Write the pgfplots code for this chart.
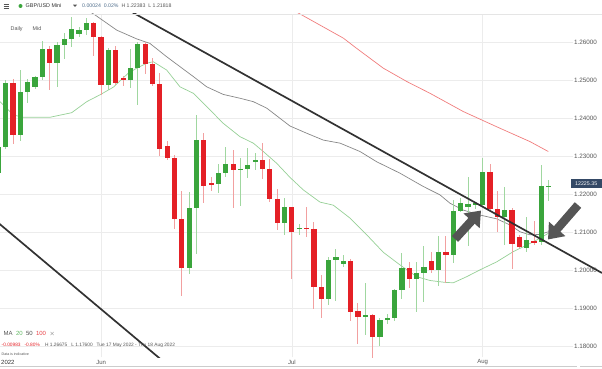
\documentclass[border=0pt]{standalone}
\usepackage{fontspec}
\setmainfont{Liberation Sans}
\usepackage{pgfplots}
\pgfplotsset{compat=1.18}
\usepackage{pgfplotstable}
\usetikzlibrary{arrows.meta}
\definecolor{upg}{RGB}{58,165,60}
\definecolor{dnr}{RGB}{228,32,38}
\definecolor{upw}{RGB}{160,215,160}
\definecolor{dnw}{RGB}{242,160,160}
\definecolor{maA}{RGB}{150,208,150}
\definecolor{maB}{RGB}{135,135,135}
\definecolor{maC}{RGB}{240,125,125}
\definecolor{trend}{RGB}{50,50,50}
\definecolor{arrowc}{RGB}{85,85,85}
\definecolor{gridc}{RGB}{236,236,236}
\definecolor{txt}{RGB}{85,85,85}
\definecolor{tagc}{RGB}{52,73,102}
\definecolor{hdrblue}{RGB}{80,110,140}

\pgfplotstableread{
i o h l c
-1 1.2256 1.2330 1.2243 1.2326
0 1.2324 1.2501 1.2320 1.2494
2 1.2356 1.2527 1.2341 1.2470
3 1.2470 1.2503 1.2441 1.2495
4 1.2483 1.2511 1.2477 1.2510
5 1.2510 1.2603 1.2501 1.2582
7 1.2546 1.2600 1.2483 1.2593
8 1.2593 1.2624 1.2555 1.2608
9 1.2608 1.26675 1.2588 1.2635
10 1.2622 1.2641 1.2613 1.2632
11 1.2632 1.2665 1.2619 1.2652
14 1.2488 1.2584 1.2475 1.2579
17 1.2501 1.2582 1.2481 1.2532
18 1.2532 1.2602 1.2435 1.2595
25 1.2006 1.2206 1.1990 1.2164
26 1.2164 1.2409 1.2043 1.2343
29 1.2227 1.2280 1.2203 1.2257
30 1.2257 1.2326 1.2247 1.2279
32 1.2264 1.2297 1.2171 1.2268
33 1.2268 1.2321 1.2243 1.2277
34 1.2286 1.2308 1.2264 1.2291
38 1.2126 1.2190 1.2094 1.2168
40 1.2109 1.2122 1.2094 1.2113
44 1.1925 1.2035 1.1910 1.2028
45 1.2028 1.2056 1.1920 1.2035
46 1.2017 1.2041 1.2009 1.2026
49 1.1879 1.1968 1.1831 1.1883
51 1.1826 1.1876 1.1803 1.1870
52 1.1870 1.1885 1.1859 1.1875
53 1.1875 1.1952 1.1868 1.1949
54 1.1949 1.2046 1.1925 1.2006
56 1.1978 1.2023 1.1892 1.1993
57 1.1993 1.2065 1.1918 1.2009
59 1.2002 1.2092 1.1960 1.2050
61 1.2041 1.2186 1.2019 1.2157
62 1.2157 1.2192 1.2153 1.2178
63 1.2168 1.2245 1.2065 1.2174
64 1.2172 1.2181 1.2162 1.2178
65 1.2172 1.2295 1.2168 1.2260
68 1.2142 1.2219 1.2067 1.2159
71 1.2060 1.2142 1.2048 1.2080
73 1.2074 1.2278 1.2067 1.2222
74 1.2220 1.22383 1.21818 1.22225
}\upcandles

\pgfplotstableread{
i o h l c
1 1.2494 1.2504 1.2332 1.2356
6 1.2582 1.2591 1.2475 1.2546
12 1.2652 1.2654 1.2565 1.2613
13 1.2613 1.2617 1.2462 1.2488
15 1.2579 1.2590 1.2488 1.2492
16 1.2505 1.2511 1.2486 1.2501
19 1.2595 1.2602 1.2516 1.2542
20 1.2542 1.2560 1.2486 1.2490
21 1.2490 1.2519 1.2302 1.2320
22 1.2328 1.2341 1.2291 1.2295
23 1.2295 1.2304 1.2109 1.2137
24 1.2137 1.2209 1.1934 1.2006
27 1.2343 1.2362 1.2177 1.2222
28 1.2229 1.2245 1.2209 1.2227
31 1.2279 1.2317 1.2164 1.2264
35 1.2291 1.2336 1.2240 1.2267
36 1.2267 1.2293 1.2180 1.2188
37 1.2188 1.2215 1.2107 1.2124
39 1.2168 1.2168 1.1978 1.2102
41 1.2113 1.2166 1.2087 1.2110
42 1.2110 1.2127 1.1899 1.1958
43 1.1958 1.1988 1.1876 1.1925
47 1.2026 1.2030 1.1868 1.1892
48 1.1894 1.1916 1.1807 1.1879
50 1.1883 1.1885 1.1760 1.1826
55 1.2006 1.2023 1.1954 1.1978
58 1.2026 1.2048 1.1993 1.2002
60 1.2050 1.2092 1.1967 1.2041
66 1.2260 1.2280 1.2155 1.2161
67 1.2161 1.2210 1.2102 1.2142
69 1.2159 1.2164 1.2004 1.2069
70 1.2087 1.2094 1.2059 1.2061
72 1.2079 1.2130 1.2067 1.2074
}\dncandles

\pgfplotstableread{
x y
-0.78 1.2444
1.04 1.2409
2.40 1.2403
6.04 1.2403
8.99 1.2415
11.04 1.2444
12.85 1.2462
14.66 1.2482
16.71 1.2519
17.85 1.2532
19.21 1.2545
20.11 1.2549
21.94 1.2527
23.75 1.2483
25.57 1.2466
27.39 1.2431
29.65 1.2387
31.93 1.2352
33.74 1.2335
35.10 1.2313
36.93 1.2282
38.74 1.2245
40.56 1.2212
42.83 1.2180
44.64 1.2172
46.92 1.2138
49.20 1.2094
51.46 1.2048
53.73 1.2015
56.01 1.1984
57.82 1.1974
59.87 1.1969
61.00 1.1968
62.82 1.1984
64.64 1.2002
66.91 1.2023
69.18 1.2050
71.00 1.2067
72.81 1.2085
73.94 1.2098
}\maTwenty

\pgfplotstableread{
x y
10.81 1.2688
12.17 1.2672
15.13 1.2632
17.85 1.2609
19.66 1.2597
21.94 1.2562
23.75 1.2536
25.57 1.2510
27.39 1.2483
29.65 1.2463
31.93 1.2453
33.74 1.2444
35.57 1.2427
38.74 1.2380
41.02 1.2361
43.28 1.2343
45.56 1.2335
48.28 1.2313
50.56 1.2286
53.73 1.2256
56.91 1.2221
59.18 1.2199
60.55 1.2177
62.36 1.2159
64.64 1.2146
66.91 1.2136
68.72 1.2120
70.09 1.2102
71.45 1.2094
72.81 1.2095
73.94 1.2102
}\maFifty

\pgfplotstableread{
x y
38.74 1.2689
40.34 1.2672
46.01 1.2611
47.83 1.2584
51.46 1.2532
54.65 1.2497
57.82 1.2466
62.36 1.2418
66.91 1.2378
71.45 1.2339
73.94 1.2313
}\maHundred

\pgfplotsset{
  candle/.style={draw=none, fill=none, mark=none, forget plot,
     error bars/.cd, y dir=both, y explicit, error mark=none},
}

\begin{document}
\begin{tikzpicture}[x=1pt,y=1pt]
\begin{axis}[
  width=602pt, height=343.5pt, scale only axis,
  xmin=-0.777, xmax=81.26, ymin=1.17716, ymax=1.26744,
  axis line style={draw=none}, tick style={draw=none},
  xtick={13,39,65}, xticklabels={Jun,Jul,Aug},
  xticklabel style={anchor=center, yshift=-4.8pt, font=\fontsize{6}{7}\selectfont, text=txt},
  ytick={1.18,1.19,1.20,1.21,1.22,1.23,1.24,1.25,1.26},
  yticklabel pos=right,
  yticklabel style={anchor=east, xshift=-1.5pt, font=\fontsize{6.3}{7}\selectfont, text=txt,
     /pgf/number format/fixed, /pgf/number format/fixed zerofill,
     /pgf/number format/precision=5, /pgf/number format/assume math mode=true},
  clip=true,
]
\coordinate (O) at (rel axis cs:0,0);
% grid
\pgfplotsinvokeforeach{1.18,1.19,1.20,1.21,1.22,1.23,1.24,1.25,1.26}{
  \draw[gridc, line width=0.6pt] (axis cs:-0.777,#1) -- (axis cs:77.3,#1);
}
\pgfplotsinvokeforeach{13,39,65}{
  \draw[gridc, line width=0.6pt] (axis cs:#1,1.17716) -- (axis cs:#1,1.26744);
}
% moving averages
\addplot[maA, line width=0.7pt, mark=none] table[x=x,y=y] {\maTwenty};
\addplot[maB, line width=0.7pt, mark=none] table[x=x,y=y] {\maFifty};
\addplot[maC, line width=0.7pt, mark=none] table[x=x,y=y] {\maHundred};
% wicks
\addplot[candle, error bar style={draw=upw, line width=1pt}]
  table[x=i, y expr={(\thisrow{h}+\thisrow{l})/2}, y error expr={(\thisrow{h}-\thisrow{l})/2}] {\upcandles};
\addplot[candle, error bar style={draw=dnw, line width=1pt}]
  table[x=i, y expr={(\thisrow{h}+\thisrow{l})/2}, y error expr={(\thisrow{h}-\thisrow{l})/2}] {\dncandles};
% bodies
\addplot[candle, error bar style={draw=upg, line width=5.2pt}]
  table[x=i, y expr={(\thisrow{o}+\thisrow{c})/2}, y error expr={max(abs(\thisrow{c}-\thisrow{o})/2,0.00017)}] {\upcandles};
\addplot[candle, error bar style={draw=dnr, line width=5.2pt}]
  table[x=i, y expr={(\thisrow{o}+\thisrow{c})/2}, y error expr={max(abs(\thisrow{c}-\thisrow{o})/2,0.00017)}] {\dncandles};
% trendlines
\addplot[trend, line width=1.7pt, mark=none] coordinates {(16.94,1.26823) (81.26,1.19937)};
\addplot[trend, line width=1.7pt, mark=none] coordinates {(-1.46,1.21327) (21.71,1.17575)};
\end{axis}

\pgfresetboundingbox
\begin{scope}[shift={(O)}, yshift=-11.5pt]
\path[use as bounding box] (0,0) rectangle (602,369);
% header
\draw[black!10, line width=0.6pt] (0,355) -- (602,355);
\foreach \yy in {361,363,365} \draw[txt, line width=0.6pt] (3.5,\yy) -- (9,\yy);
\fill[upg] (20.5,363) circle (2pt);
\node[anchor=west, inner sep=0pt, text=black!80, font=\fontsize{5.4}{6}\selectfont] at (25.5,363) {GBP/USD Mini};
\fill[txt] (73,364.3) -- (77,364.3) -- (75,362) -- cycle;
\node[anchor=west, inner sep=0pt, font=\fontsize{5.2}{6}\selectfont] at (82,363) {\textcolor{hdrblue}{0.00024\ \ 0.02\%}\ \ \textcolor{txt}{H 1.22383\ \ L 1.21818}};

% price tag
\fill[tagc] (571,180.7) rectangle (601.5,189.7);
\node[text=white, inner sep=0pt, font=\fontsize{5.3}{6}\selectfont] at (586.2,185.2) {12225.35};

% arrows
\draw[arrowc, line width=8.5pt, -{Triangle[width=21pt,length=14pt]}] (455,130) -- (481,158.5);
\draw[arrowc, line width=8.5pt, -{Triangle[width=21pt,length=14pt]}] (578,164) -- (548,129.5);

% labels in plot
\node[anchor=west, inner sep=0pt, text=txt, font=\fontsize{5.4}{6}\selectfont] at (10.5,340) {Daily};
\node[anchor=west, inner sep=0pt, text=txt, font=\fontsize{5.4}{6}\selectfont] at (32.5,340) {Mid};
\node[anchor=west, inner sep=0pt, font=\fontsize{6}{7}\selectfont] at (3.5,34.7)
  {\textcolor{txt}{MA}\ \ \textcolor{upg!80}{20}\ \ \textcolor{black!70}{50}\ \ \textcolor{dnr!85}{100}\ \ \textcolor{txt}{$\times$}};
\node[anchor=west, inner sep=0pt, font=\fontsize{4.8}{5.5}\selectfont] at (1.5,24)
  {\textcolor{dnr}{-0.00983\ \ \ -0.80\%}\ \ \ \ \textcolor{txt}{H 1.26675\ \ \ L 1.17600\ \ \ Tue 17 May 2022 - Thu 18 Aug 2022}};
\node[anchor=west, inner sep=0pt, text=txt, font=\fontsize{3.6}{4}\selectfont] at (1.5,15) {Data is indicative};
\node[anchor=west, inner sep=0pt, text=black!80, font=\fontsize{6}{7}\selectfont] at (1,6.7) {2022};

% bottom bar
\draw[black!20, line width=0.8pt] (0,2.2) -- (577,2.2);
\draw[black!20, line width=0.8pt] (580,2.2) -- (602,2.2);
\end{scope}
\end{tikzpicture}
\end{document}
